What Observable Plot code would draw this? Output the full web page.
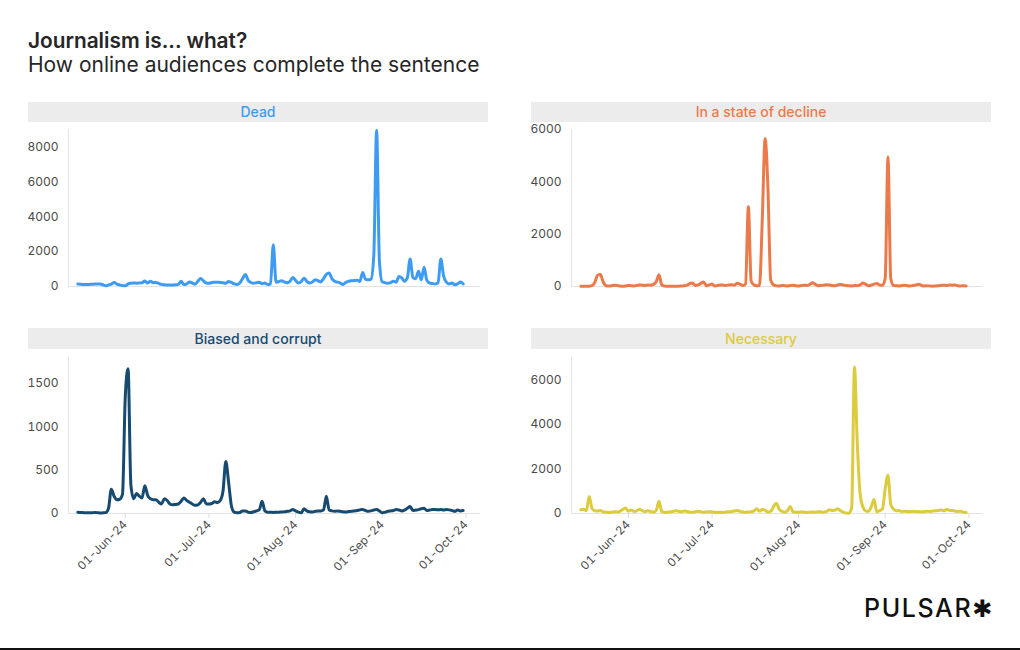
<!DOCTYPE html>
<html>
<head>
<meta charset="utf-8">
<script src="https://cdn.jsdelivr.net/npm/d3@7"></script>
<script src="https://cdn.jsdelivr.net/npm/@observablehq/plot@0.6"></script>
<style>
  html, body { margin: 0; padding: 0; background: #fff; }
  #wrap { position: relative; width: 1020px; height: 650px; overflow: hidden; font-family: Inter, "Noto Sans", sans-serif; }
  .title { position: absolute; left: 28px; top: 31px; font-size: 20.8px; line-height: 20px; font-weight: 600; color: #262626; white-space: nowrap; }
  .subtitle { position: absolute; left: 28px; top: 55px; font-size: 21px; line-height: 20.5px; font-weight: 400; color: #262626; white-space: nowrap; }
  .strip { position: absolute; background: #ececec; text-align: center; font-size: 14px; font-weight: 500; white-space: nowrap; }
  .panel { position: absolute; }
  .logo { position: absolute; left: 864px; top: 594px; font-size: 25px; line-height: 28px; font-weight: 500; letter-spacing: 1.6px; color: #111; white-space: nowrap; }
  .logo span { font-family: "DejaVu Sans", sans-serif; font-weight: 700; font-size: 24px; letter-spacing: 0; }
  .bottomline { position: absolute; left: 0; top: 648px; width: 1020px; height: 2px; background: #111; }
</style>
</head>
<body>
<div id="wrap">
  <div class="title">Journalism is... what?</div>
  <div class="subtitle">How online audiences complete the sentence</div>
  <div class="logo">PULSAR<span>✱</span></div>
  <div class="bottomline"></div>
</div>
<script>
// ---- Data (daily counts, 15 May 2024 – 30 Sep 2024) ----
const firstDay = "2024-05-15";
const lastDayExclusive = "2024-10-01";
const monthTickDates = ["2024-06-01", "2024-07-01", "2024-08-01", "2024-09-01", "2024-10-01"];

const categories = ["Dead", "In a state of decline", "Biased and corrupt", "Necessary"];

const dead = [
  140,130,120,110,120,130,140,150,140,100, 40, 90,130,230,140, 90, 50, 40,150,190,
  200,190,200,210,320,200,300,220,230,180,120,100, 90, 80, 90,100,120,300,110,150,
  260,200,130,300,460,320,200,180,230,240,250,230,210,180,290,230,150,120,200,450,
  690,350,230,190,220,240,160,200,110,150,2400,250,280,330,260,210,300,520,350,200,
  280,480,300,200,260,380,330,260,450,700,770,450,300,250,200,110,240,300,330,350,
  360,290,800,420,380,420,1800,8950,1500,270,220,180,220,300,250,580,500,300,500,1570,
  500,450,870,380,1100,350,200,170,150,200,1570,600,250,150,200,100,150,260,150
];

const decline = [
   10, 10,  5, 10, 30,150,430,460,180, 30, 20, 30, 50, 40, 20, 10, 20, 40, 30, 20,
   40, 60, 50, 40, 60, 50, 80,180,450, 60, 20, 10, 10,  5, 10, 10, 20, 30, 50,110,
  130, 40, 60,120,170, 30, 60,100, 20, 40, 60, 50, 40, 60, 70, 50,120, 90, 40,100,
 3050,200, 60, 30, 40,2600,5650,3800,250, 60, 30, 20, 40, 30, 20, 40, 50, 30, 20, 40,
   50, 40, 80,140, 80, 30, 40, 50, 70, 60, 40, 30, 60, 80, 60, 40, 30, 20, 40, 30,
   60,130, 90, 30, 50, 90,110, 60, 50,300,4950,300, 40, 30, 20, 40, 50, 30, 20, 40,
   60, 90, 40, 20, 30, 20, 10, 20, 30, 40, 50, 40, 60, 50, 60, 30, 20, 30, 20
];

const biased = [
   15, 12, 10,  8, 10,  8, 12, 10,  5,  8, 10, 60,280,200,160,165,220,1350,1670,330,
  170,230,200,180,320,210,170,160,160,130,110,170,150,110,100,105,110,140,180,150,
  130,110, 95,100,130,170,110,110,115,135,125,150,260,600,360, 90, 15,  8, 12, 30,
   30, 15, 12, 20, 30, 45,140, 30, 15, 15, 12, 15, 15, 18, 20, 25, 30, 45, 30, 15,
    8, 55, 30, 20, 18, 25, 30, 30, 40,200, 40, 30, 25, 30, 25, 20, 18, 22, 25, 30,
   35, 42, 46, 35, 25, 30, 40, 46, 30,  8, 15, 25, 30, 35, 45, 40, 30, 40, 60, 80,
   35, 40, 45, 55, 60, 35, 40, 45, 45, 42, 46, 40, 45, 42, 35, 25, 40, 30, 35
];

const necessary = [
  170,190,130,760,230,120,110,140, 70, 60, 50, 60, 80, 70,100,180,250,100,160, 90,
  120,190,130, 80,120, 90, 60,140,550, 80, 50, 60, 70, 90,120,100, 80,110, 90, 70,
   60, 80,100, 80, 60, 70, 80, 70, 60, 50, 60, 50, 70, 80, 90,110,140,100, 70, 60,
   70, 80,120,210,100,180,150, 60,100,300,460,200,100, 60,120,310, 80, 60, 60, 70,
   60, 50, 60, 70, 60, 80, 70, 60, 90,170,130,150,210,120, 60, 20, 15,250,6570,3200,
  900,300,120,100,300,630, 80,130,200,1100,1720,400,200,120,130, 90,100, 90, 80,100,
   90, 80, 70, 90,100, 90,110,120,130,160,120,180,150,130,110, 90,100, 60, 50
];

const yMaxes = [9000, 6000, 1800, 7000];
const yTickValues = [
  [0, 2000, 4000, 6000, 8000],
  [0, 2000, 4000, 6000],
  [0, 500, 1000, 1500],
  [0, 2000, 4000, 6000]
];
const colors = ["#3d9cf2", "#eb7a4a", "#164a70", "#dccb3c"];
const seriesValues = [dead, decline, biased, necessary];

// ---- Build ----
const dates = d3.utcDay.range(new Date(firstDay + "T00:00:00Z"), new Date(lastDayExclusive + "T00:00:00Z"));
const monthTicks = monthTickDates.map(s => new Date(s + "T00:00:00Z"));
const xDomain = [new Date("2024-05-11T16:00:00Z"), new Date("2024-10-06T05:00:00Z")];
const fmt = d3.utcFormat("%d-%b-%y");

const layout = [
  {left: 0,   top: 124, strip: {l: 28,  t: 102, w: 460, h: 20}, mt: 5, mb: 10, ph: 157, showX: false},
  {left: 503, top: 124, strip: {l: 531, t: 102, w: 460, h: 20}, mt: 5, mb: 10, ph: 157, showX: false},
  {left: 0,   top: 351, strip: {l: 28,  t: 328, w: 460, h: 21}, mt: 6, mb: 80, ph: 156, showX: true},
  {left: 503, top: 351, strip: {l: 531, t: 328, w: 460, h: 21}, mt: 6, mb: 80, ph: 156, showX: true}
];

const wrap = document.getElementById("wrap");

categories.forEach((cat, k) => {
  const L = layout[k];
  const strip = document.createElement("div");
  strip.className = "strip";
  Object.assign(strip.style, {
    left: L.strip.l + "px", top: L.strip.t + "px", width: L.strip.w + "px",
    height: L.strip.h + "px", lineHeight: L.strip.h + "px", color: colors[k]
  });
  strip.textContent = cat;
  wrap.appendChild(strip);

  const data = dates.map((d, i) => ({date: d, value: seriesValues[k][i]}));

  const marks = [
    Plot.ruleY([0], {stroke: "#e3e3e3", strokeWidth: 1}),
    Plot.ruleX([xDomain[0]], {stroke: "#e3e3e3", strokeWidth: 1}),
    Plot.axisY({ticks: yTickValues[k], tickFormat: d => String(d), tickSize: 0, tickPadding: 10, label: null, fill: "#4a4a4a", fontSize: 12}),
  ];
  if (L.showX) {
    marks.push(Plot.axisX({
      ticks: monthTicks, tickFormat: fmt, tickRotate: -45, tickSize: 5, tickPadding: 4,
      label: null, stroke: "#dcdcdc", fill: "#4a4a4a", fontSize: 11.5
    }));
  }
  marks.push(Plot.lineY(data, {x: "date", y: "value", stroke: colors[k], strokeWidth: 3, curve: "monotone-x"}));

  const chart = Plot.plot({
    width: 500,
    height: L.mt + L.ph + L.mb,
    marginLeft: 68, marginRight: 20, marginTop: L.mt, marginBottom: L.mb,
    style: {background: "transparent", fontFamily: "Inter, 'Noto Sans', sans-serif", fontSize: "12px", overflow: "visible"},
    x: {type: "utc", domain: xDomain, axis: null},
    y: {domain: [0, yMaxes[k]], axis: null},
    marks
  });
  chart.classList.add("panel");
  chart.style.left = L.left + "px";
  chart.style.top = L.top + "px";
  chart.style.position = "absolute";
  wrap.appendChild(chart);
});
</script>
</body>
</html>
